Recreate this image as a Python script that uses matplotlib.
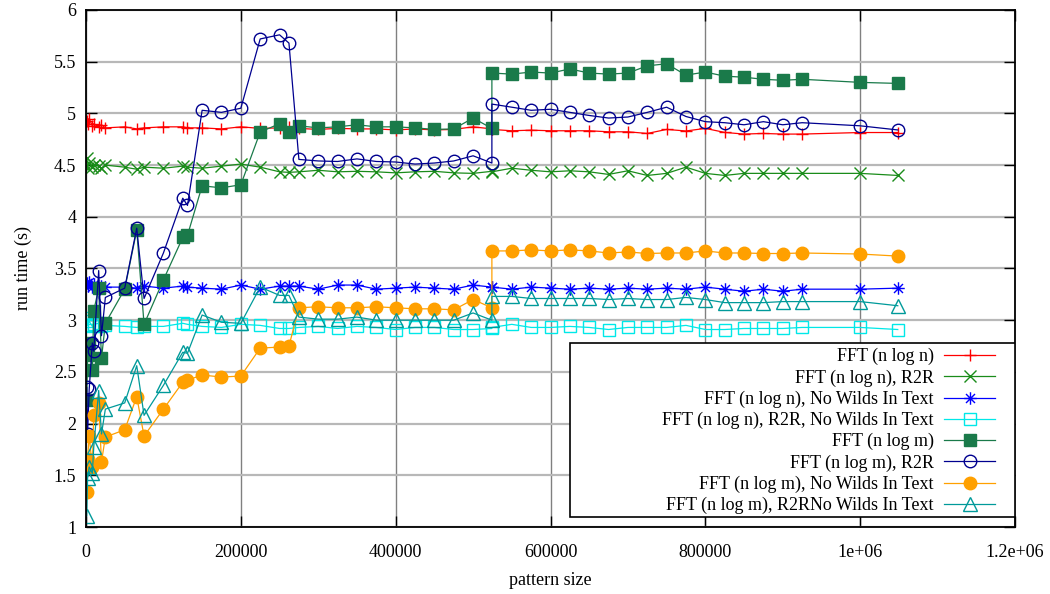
import matplotlib
matplotlib.use("Agg")
import matplotlib.pyplot as plt
from matplotlib.path import Path
from matplotlib.patches import Rectangle

plt.rcParams['font.family'] = ['Liberation Serif', 'DejaVu Serif']

pattern_size = [1000, 2048, 4096, 8192, 10000, 16384, 20000, 25000,
                50000, 65536, 75000, 100000, 125000, 131072, 150000, 175000, 200000,
                225000, 250000, 262144, 275000, 300000, 325000, 350000, 375000, 400000,
                425000, 450000, 475000, 500000, 524288, 524288,
                550000, 575000, 600000, 625000, 650000, 675000, 700000, 725000, 750000,
                775000, 800000, 825000, 850000, 875000, 900000, 925000, 1000000, 1048576]

fft_nlogn = [4.93, 4.90, 4.95, 4.88, 4.90, 4.87, 4.89, 4.86,
             4.87, 4.85, 4.86, 4.87, 4.87, 4.86, 4.86, 4.85, 4.87,
             4.855, 4.86, 4.87, 4.855, 4.845, 4.855, 4.85, 4.85, 4.84, 4.85, 4.84, 4.845, 4.87,
             4.85, 4.845,
             4.832, 4.838, 4.832, 4.832, 4.832, 4.822, 4.822, 4.806, 4.845, 4.83, 4.855, 4.816,
             4.80, 4.806, 4.80, 4.80, 4.815, 4.815]

fft_nlogn_r2r = [4.57, 4.47, 4.52, 4.48, 4.50, 4.49, 4.47, 4.50,
                 4.48, 4.46, 4.48, 4.47, 4.49, 4.48, 4.47, 4.49, 4.51,
                 4.48, 4.435, 4.43, 4.435, 4.45, 4.435, 4.44, 4.435, 4.425, 4.435, 4.44, 4.425, 4.42,
                 4.44, 4.435,
                 4.47, 4.45, 4.435, 4.445, 4.435, 4.41, 4.445, 4.40, 4.42, 4.48, 4.42, 4.40,
                 4.42, 4.42, 4.42, 4.42, 4.42, 4.40]

fft_nlogn_nowild = [3.36, 3.33, 3.37, 3.32, 3.35, 3.31, 3.33, 3.32,
                    3.32, 3.31, 3.33, 3.31, 3.33, 3.32, 3.31, 3.30, 3.34,
                    3.30, 3.33, 3.33, 3.33, 3.30, 3.34, 3.34, 3.30, 3.31, 3.32, 3.31, 3.30, 3.34,
                    3.32, 3.32,
                    3.30, 3.32, 3.31, 3.30, 3.31, 3.30, 3.31, 3.30, 3.31, 3.30, 3.32, 3.30,
                    3.28, 3.30, 3.28, 3.30, 3.30, 3.31]

fft_nlogn_r2r_nowild = [3.02, 2.95, 2.99, 2.94, 2.96, 2.97, 2.94, 2.95,
                        2.94, 2.93, 2.94, 2.94, 2.97, 2.96, 2.94, 2.93, 2.96,
                        2.95, 2.92, 2.92, 2.93, 2.94, 2.92, 2.94, 2.93, 2.91, 2.93, 2.93, 2.91, 2.91,
                        2.92, 2.93,
                        2.96, 2.93, 2.93, 2.94, 2.93, 2.91, 2.93, 2.93, 2.93, 2.95, 2.91, 2.91,
                        2.92, 2.92, 2.92, 2.93, 2.93, 2.91]

fft_nlogm = [2.23, 2.66, 2.78, 2.52, 3.09, 3.31, 2.63, 2.97,
             3.30, 3.87, 2.96, 3.39, 3.80, 3.82, 4.30, 4.28, 4.31,
             4.82, 4.90, 4.82, 4.88, 4.86, 4.87, 4.89, 4.87, 4.87, 4.86, 4.845, 4.85, 4.955,
             4.855, 5.39,
             5.38, 5.40, 5.39, 5.43, 5.39, 5.38, 5.39, 5.46, 5.48, 5.37, 5.40, 5.36,
             5.35, 5.33, 5.32, 5.33, 5.30, 5.29]

fft_nlogm_r2r = [2.35, 1.90, 2.33, 2.78, 2.70, 3.48, 2.85, 3.22,
                 3.31, 3.89, 3.21, 3.65, 4.18, 4.11, 5.03, 5.01, 5.05,
                 5.72, 5.76, 5.68, 4.555, 4.54, 4.535, 4.56, 4.535, 4.53, 4.51, 4.52, 4.54, 4.59,
                 4.52, 5.09,
                 5.06, 5.03, 5.04, 5.01, 4.98, 4.955, 4.965, 5.01, 5.06, 4.97, 4.92, 4.91,
                 4.89, 4.92, 4.89, 4.91, 4.88, 4.84]

fft_nlogm_nowild = [1.34, 1.66, 1.88, 1.58, 2.08, 2.20, 1.63, 1.87,
                    1.94, 2.26, 1.88, 2.14, 2.40, 2.42, 2.47, 2.45, 2.46,
                    2.73, 2.74, 2.75, 3.12, 3.13, 3.12, 3.12, 3.13, 3.12, 3.11, 3.11, 3.10, 3.20,
                    3.12, 3.67,
                    3.67, 3.68, 3.67, 3.68, 3.67, 3.65, 3.66, 3.645, 3.65, 3.65, 3.67, 3.65,
                    3.65, 3.645, 3.645, 3.65, 3.64, 3.62]

fft_nlogm_r2r_nowild = [1.11, 1.47, 1.58, 1.52, 1.77, 2.32, 1.90, 2.14,
                        2.20, 2.56, 2.08, 2.37, 2.69, 2.68, 3.05, 2.98, 2.97,
                        3.32, 3.24, 3.24, 3.03, 3.01, 3.01, 3.03, 3.00, 3.00, 3.00, 3.00, 3.00, 3.07,
                        3.00, 3.23,
                        3.23, 3.21, 3.21, 3.21, 3.21, 3.20, 3.21, 3.20, 3.20, 3.22, 3.20, 3.17,
                        3.17, 3.17, 3.18, 3.18, 3.18, 3.14]

labels = ["FFT (n log n)", "FFT (n log n), R2R", "FFT (n log n), No Wilds In Text",
          "FFT (n log n), R2R, No Wilds In Text", "FFT (n log m)", "FFT (n log m), R2R",
          "FFT (n log m), No Wilds In Text", "FFT (n log m), R2RNo Wilds In Text"]

x_ticks = [0, 200000, 400000, 600000, 800000, 1000000, 1200000]
x_ticklabels = ["0", "200000", "400000", "600000", "800000", "1e+06", "1.2e+06"]
y_ticks = [1, 1.5, 2, 2.5, 3, 3.5, 4, 4.5, 5, 5.5, 6]
y_ticklabels = ["1", "1.5", "2", "2.5", "3", "3.5", "4", "4.5", "5", "5.5", "6"]

# asterisk marker
star = Path([(-1, 0), (1, 0), (0, -1), (0, 1), (-0.72, -0.72), (0.72, 0.72), (-0.72, 0.72), (0.72, -0.72)],
            [Path.MOVETO, Path.LINETO] * 4)

series = [fft_nlogn, fft_nlogn_r2r, fft_nlogn_nowild, fft_nlogn_r2r_nowild,
          fft_nlogm, fft_nlogm_r2r, fft_nlogm_nowild, fft_nlogm_r2r_nowild]
styles = [
    dict(color='#ff0000', marker='+', ms=8, mfc='none'),
    dict(color='#1a8c1a', marker='x', ms=8, mfc='none'),
    dict(color='#0000ff', marker=star, ms=9, mfc='none'),
    dict(color='#00e8e8', marker='s', ms=8.5, mfc='none'),
    dict(color='#1a7a4a', marker='s', ms=9, mfc='#1a7a4a'),
    dict(color='#00008f', marker='o', ms=9, mfc='none'),
    dict(color='#ffa000', marker='o', ms=9, mfc='#ffa000'),
    dict(color='#009a9a', marker='^', ms=10, mfc='none'),
]

fig = plt.figure(figsize=(10.5, 5.94), dpi=100)
ax = fig.add_axes([86 / 1050, 1 - 527 / 594, (1015 - 86) / 1050, (527 - 10) / 594])

handles = []
for ys, st, lab in zip(series, styles, labels):
    h, = ax.plot(pattern_size, ys, color=st['color'], lw=0.9, marker=st['marker'],
                 ms=st['ms'], mfc=st['mfc'], mec=st['color'], mew=1.0, label=lab)
    handles.append(h)

ax.set_xlim(0, 1200000)
ax.set_ylim(1, 6)
ax.set_xticks(x_ticks)
ax.set_xticklabels(x_ticklabels)
ax.set_yticks(y_ticks)
ax.set_yticklabels(y_ticklabels)
ax.tick_params(direction='in', length=8, width=1, top=True, right=True, labelsize=13, pad=7)
ax.tick_params(axis='x', pad=12)

ax.set_axisbelow(True)
ax.yaxis.grid(True, color='#b8b8b8', lw=1.6)
ax.xaxis.grid(True, color='#808080', lw=1.0)
for sp in ax.spines.values():
    sp.set_linewidth(1.3)
    sp.set_color('black')

ax.set_xlabel("pattern size", fontsize=13, labelpad=8)
ax.set_ylabel("run time (s)", fontsize=13, labelpad=16)

# legend frame
fr = Rectangle(((570 - 86) / (1015 - 86), (527 - 517) / 517), (1015 - 570) / (1015 - 86), (517 - 343) / 517,
               transform=ax.transAxes, facecolor='white', edgecolor='black', lw=1.2, zorder=5)
ax.add_patch(fr)
leg = ax.legend(handles=handles, loc='upper right',
                bbox_to_anchor=(1 - 20 / 929, 1 - (348 - 10) / 517), borderaxespad=0,
                frameon=False, markerfirst=False, fontsize=13, handlelength=2.8,
                handletextpad=0.6, labelspacing=0.22, borderpad=0)
leg.set_zorder(6)

fig.savefig("out.png", dpi=100)
